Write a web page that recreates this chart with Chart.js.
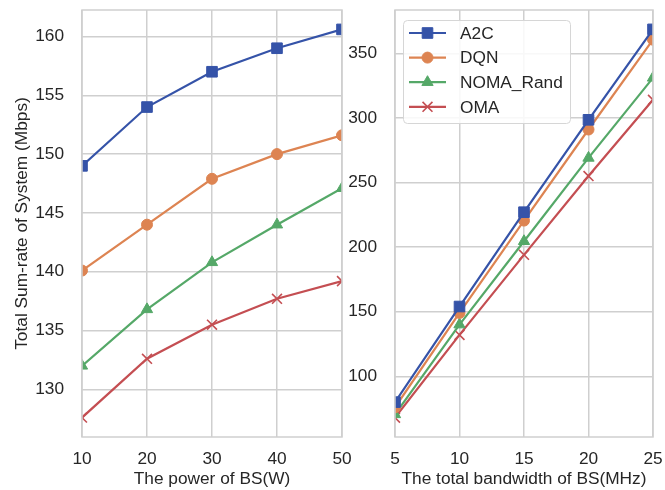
<!DOCTYPE html>
<html>
<head>
<meta charset="utf-8">
<script src="https://cdn.jsdelivr.net/npm/chart.js@4.4.1/dist/chart.umd.min.js"></script>
<style>
  html, body { margin: 0; padding: 0; background: #fff; }
  #wrap { position: relative; width: 665px; height: 490px; overflow: hidden; }
  .panel { position: absolute; top: 0; height: 490px; }
  #left { left: 0; width: 360px; }
  #right { left: 340px; width: 325px; }
</style>
</head>
<body>
<div id="wrap">
  <div class="panel" id="left"><canvas id="power"></canvas></div>
  <div class="panel" id="right"><canvas id="bandwidth"></canvas></div>
</div>
<script>
const powerW = [10, 20, 30, 40, 50];
const bandwidthMHz = [5, 10, 15, 20, 25];

const a2cPower = [149.0, 154.0, 157.0, 159.0, 160.6];
const dqnPower = [140.1, 144.0, 147.9, 150.0, 151.6];
const nomaPower = [132.0, 136.8, 140.8, 144.0, 147.1];
const omaPower = [127.6, 132.6, 135.5, 137.7, 139.2];

const a2cBand = [80, 154, 227, 298.5, 368.5];
const dqnBand = [76, 149, 220.5, 291, 360.5];
const nomaBand = [70.5, 140, 204.5, 269, 331];
const omaBand = [68, 132, 194, 255, 314];

const powerTicks = [130, 135, 140, 145, 150, 155, 160];
const bandTicks = [100, 150, 200, 250, 300, 350];

const series = [
  { label: "A2C", color: "#3553a8", style: "rect", radius: 7.5 },
  { label: "DQN", color: "#dd8452", style: "circle", radius: 5.5 },
  { label: "NOMA_Rand", color: "#55a868", style: "triangle", radius: 6.5 },
  { label: "OMA", color: "#c44e52", style: "crossRot", radius: 7 },
];

const FONT = "'Liberation Sans', Arial, sans-serif";
const GRID = "#cfcfcf";
const TEXT = "#262626";

Chart.defaults.font.family = FONT;
Chart.defaults.font.size = 17.3;
Chart.defaults.color = TEXT;
Chart.defaults.animation = false;
Chart.defaults.responsive = true;
Chart.defaults.maintainAspectRatio = false;

function dataset(s, xs, ys) {
  return {
    label: s.label,
    data: xs.map((x, i) => ({ x, y: ys[i] })),
    borderColor: s.color,
    backgroundColor: s.color,
    borderWidth: 2.2,
    pointStyle: s.style,
    pointRadius: s.radius,
    pointBorderWidth: s.style === "crossRot" ? 1.6 : 1,
    pointBorderColor: s.color,
    pointBackgroundColor: s.color,
    tension: 0,
    clip: 0,
  };
}

// grey spine around the plot area
const frame = {
  id: "frame",
  afterDatasetsDraw(chart) {
    const { ctx, chartArea: a } = chart;
    ctx.save();
    ctx.strokeStyle = GRID;
    ctx.lineWidth = 1.5;
    ctx.strokeRect(a.left, a.top, a.right - a.left, a.bottom - a.top);
    ctx.restore();
  },
};

// legend box with line + marker samples
const lineLegend = {
  id: "lineLegend",
  afterDraw(chart) {
    const { ctx } = chart;
    const x0 = 63, y0 = 20, w = 167, h = 103;
    ctx.save();
    ctx.fillStyle = "rgba(255,255,255,0.85)";
    ctx.strokeStyle = "#d6d6d6";
    ctx.lineWidth = 1;
    ctx.beginPath();
    ctx.roundRect(x0 + 0.5, y0 + 0.5, w, h, 4);
    ctx.fill();
    ctx.stroke();
    chart.data.datasets.forEach((ds, i) => {
      const y = 33 + i * 24.6;
      ctx.strokeStyle = ds.borderColor;
      ctx.lineWidth = 2.2;
      ctx.beginPath();
      ctx.moveTo(69, y);
      ctx.lineTo(106, y);
      ctx.stroke();
      ctx.fillStyle = ds.backgroundColor;
      ctx.lineWidth = ds.pointBorderWidth;
      Chart.helpers.drawPoint(ctx, { pointStyle: ds.pointStyle, radius: ds.pointRadius, borderWidth: ds.pointBorderWidth, rotation: 0 }, 87.5, y);
      ctx.fillStyle = TEXT;
      ctx.font = "17.3px " + FONT;
      ctx.textBaseline = "middle";
      ctx.textAlign = "left";
      ctx.fillText(ds.label, 120, y + 1);
    });
    ctx.restore();
  },
};

function makeChart(id, xs, ys, opts) {
  const ticks = opts.yTicks;
  new Chart(document.getElementById(id), {
    type: "line",
    data: { datasets: series.map((s, i) => dataset(s, xs, ys[i])) },
    options: {
      layout: { padding: { top: 10, right: opts.padRight, left: 0, bottom: 0 } },
      plugins: { legend: { display: false }, tooltip: { enabled: false } },
      scales: {
        x: {
          type: "linear",
          min: xs[0],
          max: xs[xs.length - 1],
          afterBuildTicks: (s) => { s.ticks = xs.map((v) => ({ value: v })); },
          grid: { color: GRID, lineWidth: 1.5, drawTicks: false },
          border: { display: false },
          ticks: { padding: 12, color: TEXT },
          title: opts.xTitle ? { display: true, text: opts.xTitle, color: TEXT, padding: { top: 0, bottom: 0 } } : { display: false },
          afterFit: (s) => { s.height = 53; s.paddingLeft = 0; s.paddingRight = 0; },
        },
        y: {
          min: opts.yMin,
          max: opts.yMax,
          afterBuildTicks: (s) => { s.ticks = ticks.map((v) => ({ value: v })); },
          grid: { color: GRID, lineWidth: 1.5, drawTicks: false },
          border: { display: false },
          ticks: { padding: 18, color: TEXT },
          title: opts.yTitle ? { display: true, text: opts.yTitle, color: TEXT, padding: { top: 12, bottom: 0 } } : { display: false },
          afterFit: (s) => { s.width = opts.yWidth; s.paddingTop = 0; s.paddingBottom = 0; },
        },
      },
    },
    plugins: opts.legend ? [frame, lineLegend] : [frame],
  });
}

makeChart("power", powerW, [a2cPower, dqnPower, nomaPower, omaPower], {
  yMin: 125.95, yMax: 162.25, yTicks: powerTicks, yWidth: 82, padRight: 18,
  xTitle: "The power of BS(W)", yTitle: "Total Sum-rate of System (Mbps)",
});

makeChart("bandwidth", bandwidthMHz, [a2cBand, dqnBand, nomaBand, omaBand], {
  yMin: 53, yMax: 383.5, yTicks: bandTicks, yWidth: 55, padRight: 12,
  xTitle: "The total bandwidth of BS(MHz)", legend: true,
});
</script>
</body>
</html>
